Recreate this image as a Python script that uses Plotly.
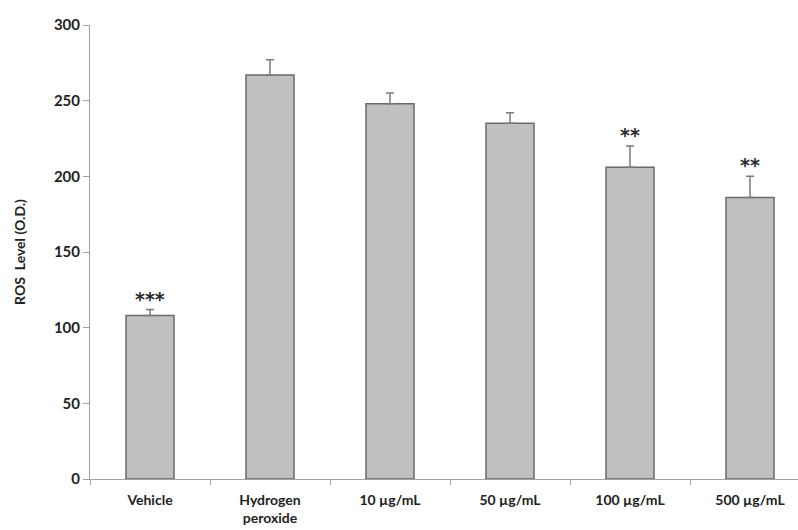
import plotly.graph_objects as go

categories = ["Vehicle", "Hydrogen<br>peroxide", "10 µg/mL", "50 µg/mL", "100 µg/mL", "500 µg/mL"]
ros_level = [108, 267, 248, 235, 206, 186]
ros_error = [4, 10, 7, 7, 14, 14]
significance = ["***", "", "", "", "**", "**"]
y_ticks = [0, 50, 100, 150, 200, 250, 300]

FONT = "Lato"

fig = go.Figure()
fig.add_trace(go.Bar(
    x=categories,
    y=ros_level,
    width=0.4,
    marker=dict(color="#c0c0c0", line=dict(color="#6a6a6a", width=1.5)),
    error_y=dict(type="data", array=ros_error, symmetric=False,
                 arrayminus=[0] * len(ros_error),
                 color="#7a7a7a", thickness=1.5, width=4),
    showlegend=False,
))

for cat, val, err, sig in zip(categories, ros_level, ros_error, significance):
    if sig:
        fig.add_annotation(x=cat, y=val + err, text=sig, showarrow=False,
                           yanchor="middle", yshift=11,
                           font=dict(family="DejaVu Sans", size=19, color="#2a2a2a",
                                     weight="bold"))

fig.update_layout(
    width=798, height=530,
    margin=dict(l=90, r=0, t=25, b=51),
    paper_bgcolor="white", plot_bgcolor="white",
    font=dict(family=FONT, size=14, color="#222222"),
    bargap=0.6,
)
fig.update_xaxes(
    type="category",
    range=[-0.5, 5.4],
    showline=True, linecolor="#a0a0a0", linewidth=1,
    ticks="outside", tickson="boundaries", ticklen=5, tickcolor="#a0a0a0",
    ticklabelstandoff=8,
    tickfont=dict(family=FONT, size=14, color="#222222", weight="bold"),
    showgrid=False, zeroline=False, fixedrange=True,
)
fig.update_yaxes(
    range=[0, 300],
    tickvals=y_ticks,
    showline=True, linecolor="#a0a0a0", linewidth=1,
    ticks="outside", ticklen=6, tickcolor="#a0a0a0",
    tickfont=dict(family=FONT, size=15, color="#222222", weight="bold"),
    showgrid=False, zeroline=False,
    title=dict(text="ROS&nbsp; Level (O.D.)", standoff=24,
               font=dict(family=FONT, size=14, color="#222222", weight="bold")),
)

fig.write_html("out.html")
